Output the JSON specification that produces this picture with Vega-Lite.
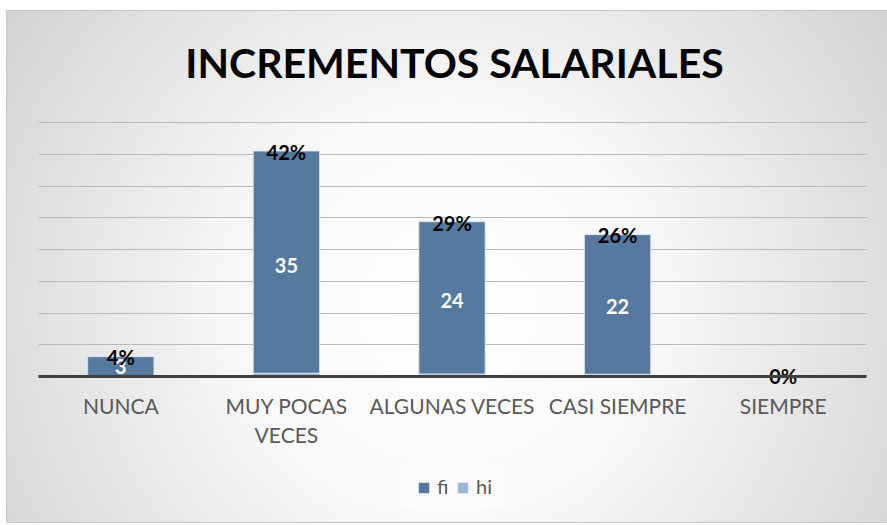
{
  "$schema": "https://vega.github.io/schema/vega-lite/v6.json",
  "width": 881,
  "height": 512,
  "autosize": {"type": "none"},
  "padding": {"left": 6, "top": 10, "right": 0, "bottom": 3},
  "background": "white",
  "title": {
    "text": "INCREMENTOS SALARIALES",
    "font": "Lato",
    "fontSize": 41,
    "fontWeight": "bold",
    "color": "#000000",
    "anchor": "middle",
    "frame": "group",
    "baseline": "alphabetic",
    "offset": -109,
    "dx": 8
  },
  "config": {
    "view": {
      "fill": {
        "gradient": "radial",
        "x1": 0.5, "y1": 0.55, "r1": 0,
        "x2": 0.5, "y2": 0.55, "r2": 0.75,
        "stops": [
          {"offset": 0, "color": "#ffffff"},
          {"offset": 0.3, "color": "#f9f9f9"},
          {"offset": 1, "color": "#c4c4c4"}
        ]
      },
      "stroke": "#c8c8c8",
      "strokeWidth": 1
    }
  },
  "data": {
    "values": [
      {"categoria": "NUNCA", "serie": "fi", "valor": 3},
      {"categoria": "MUY POCAS VECES", "serie": "fi", "valor": 35},
      {"categoria": "ALGUNAS VECES", "serie": "fi", "valor": 24},
      {"categoria": "CASI SIEMPRE", "serie": "fi", "valor": 22},
      {"categoria": "SIEMPRE", "serie": "fi", "valor": 0},
      {"categoria": "NUNCA", "serie": "hi", "valor": 0.04},
      {"categoria": "MUY POCAS VECES", "serie": "hi", "valor": 0.42},
      {"categoria": "ALGUNAS VECES", "serie": "hi", "valor": 0.29},
      {"categoria": "CASI SIEMPRE", "serie": "hi", "valor": 0.26},
      {"categoria": "SIEMPRE", "serie": "hi", "valor": 0}
    ]
  },
  "encoding": {
    "x": {
      "field": "categoria",
      "type": "nominal",
      "sort": ["NUNCA", "MUY POCAS VECES", "ALGUNAS VECES", "CASI SIEMPRE", "SIEMPRE"],
      "scale": {"range": [32, 860], "paddingInner": 0.6, "paddingOuter": 0.3},
      "axis": {
        "title": null,
        "orient": "bottom",
        "offset": -146,
        "zindex": 1,
        "domainColor": "#404040",
        "domainWidth": 3,
        "ticks": false,
        "labelFont": "Lato",
        "labelFontSize": 21,
        "labelColor": "#595959",
        "labelPadding": 20,
        "labelAngle": 0,
        "labelLineHeight": 29,
        "labelLimit": 0,
        "labelExpr": "datum.label === 'MUY POCAS VECES' ? ['MUY POCAS', 'VECES'] : datum.label"
      }
    },
    "y": {
      "field": "valor",
      "type": "quantitative",
      "stack": "zero",
      "scale": {"domain": [0, 40], "range": [366, 112], "nice": false},
      "axis": {
        "title": null,
        "grid": true,
        "values": [5, 10, 15, 20, 25, 30, 35, 40],
        "labels": false,
        "ticks": false,
        "domain": false,
        "gridColor": "#bababa",
        "gridWidth": 1
      }
    }
  },
  "layer": [
    {
      "mark": {"type": "bar", "stroke": "#dde6f1", "strokeWidth": 0.8},
      "encoding": {
        "color": {
          "field": "serie",
          "type": "nominal",
          "scale": {"domain": ["fi", "hi"], "range": ["#56799f", "#9bb7dd"]},
          "legend": {
            "title": null,
            "orient": "none",
            "legendX": 396,
            "legendY": 456,
            "direction": "horizontal",
            "symbolType": "square",
            "symbolSize": 110,
            "symbolStrokeWidth": 0,
            "labelFont": "Lato",
            "labelFontSize": 20,
            "labelColor": "#595959",
            "labelOffset": 3,
            "columnPadding": 4,
            "padding": 12,
            "fillColor": "rgba(255,255,255,0.35)"
          }
        }
      }
    },
    {
      "mark": {"type": "text", "font": "Lato", "fontWeight": "bold", "fontSize": 20, "baseline": "middle", "dy": 2},
      "encoding": {
        "y": {"field": "valor", "type": "quantitative", "stack": "zero", "bandPosition": 0.5},
        "detail": {"field": "serie"},
        "text": {
          "condition": {"test": "datum.serie === 'hi'", "field": "valor", "format": ".0%"},
          "field": "valor",
          "format": "d"
        },
        "color": {
          "condition": {"test": "datum.serie === 'hi'", "value": "#000000"},
          "value": "#ffffff"
        }
      }
    }
  ]
}
